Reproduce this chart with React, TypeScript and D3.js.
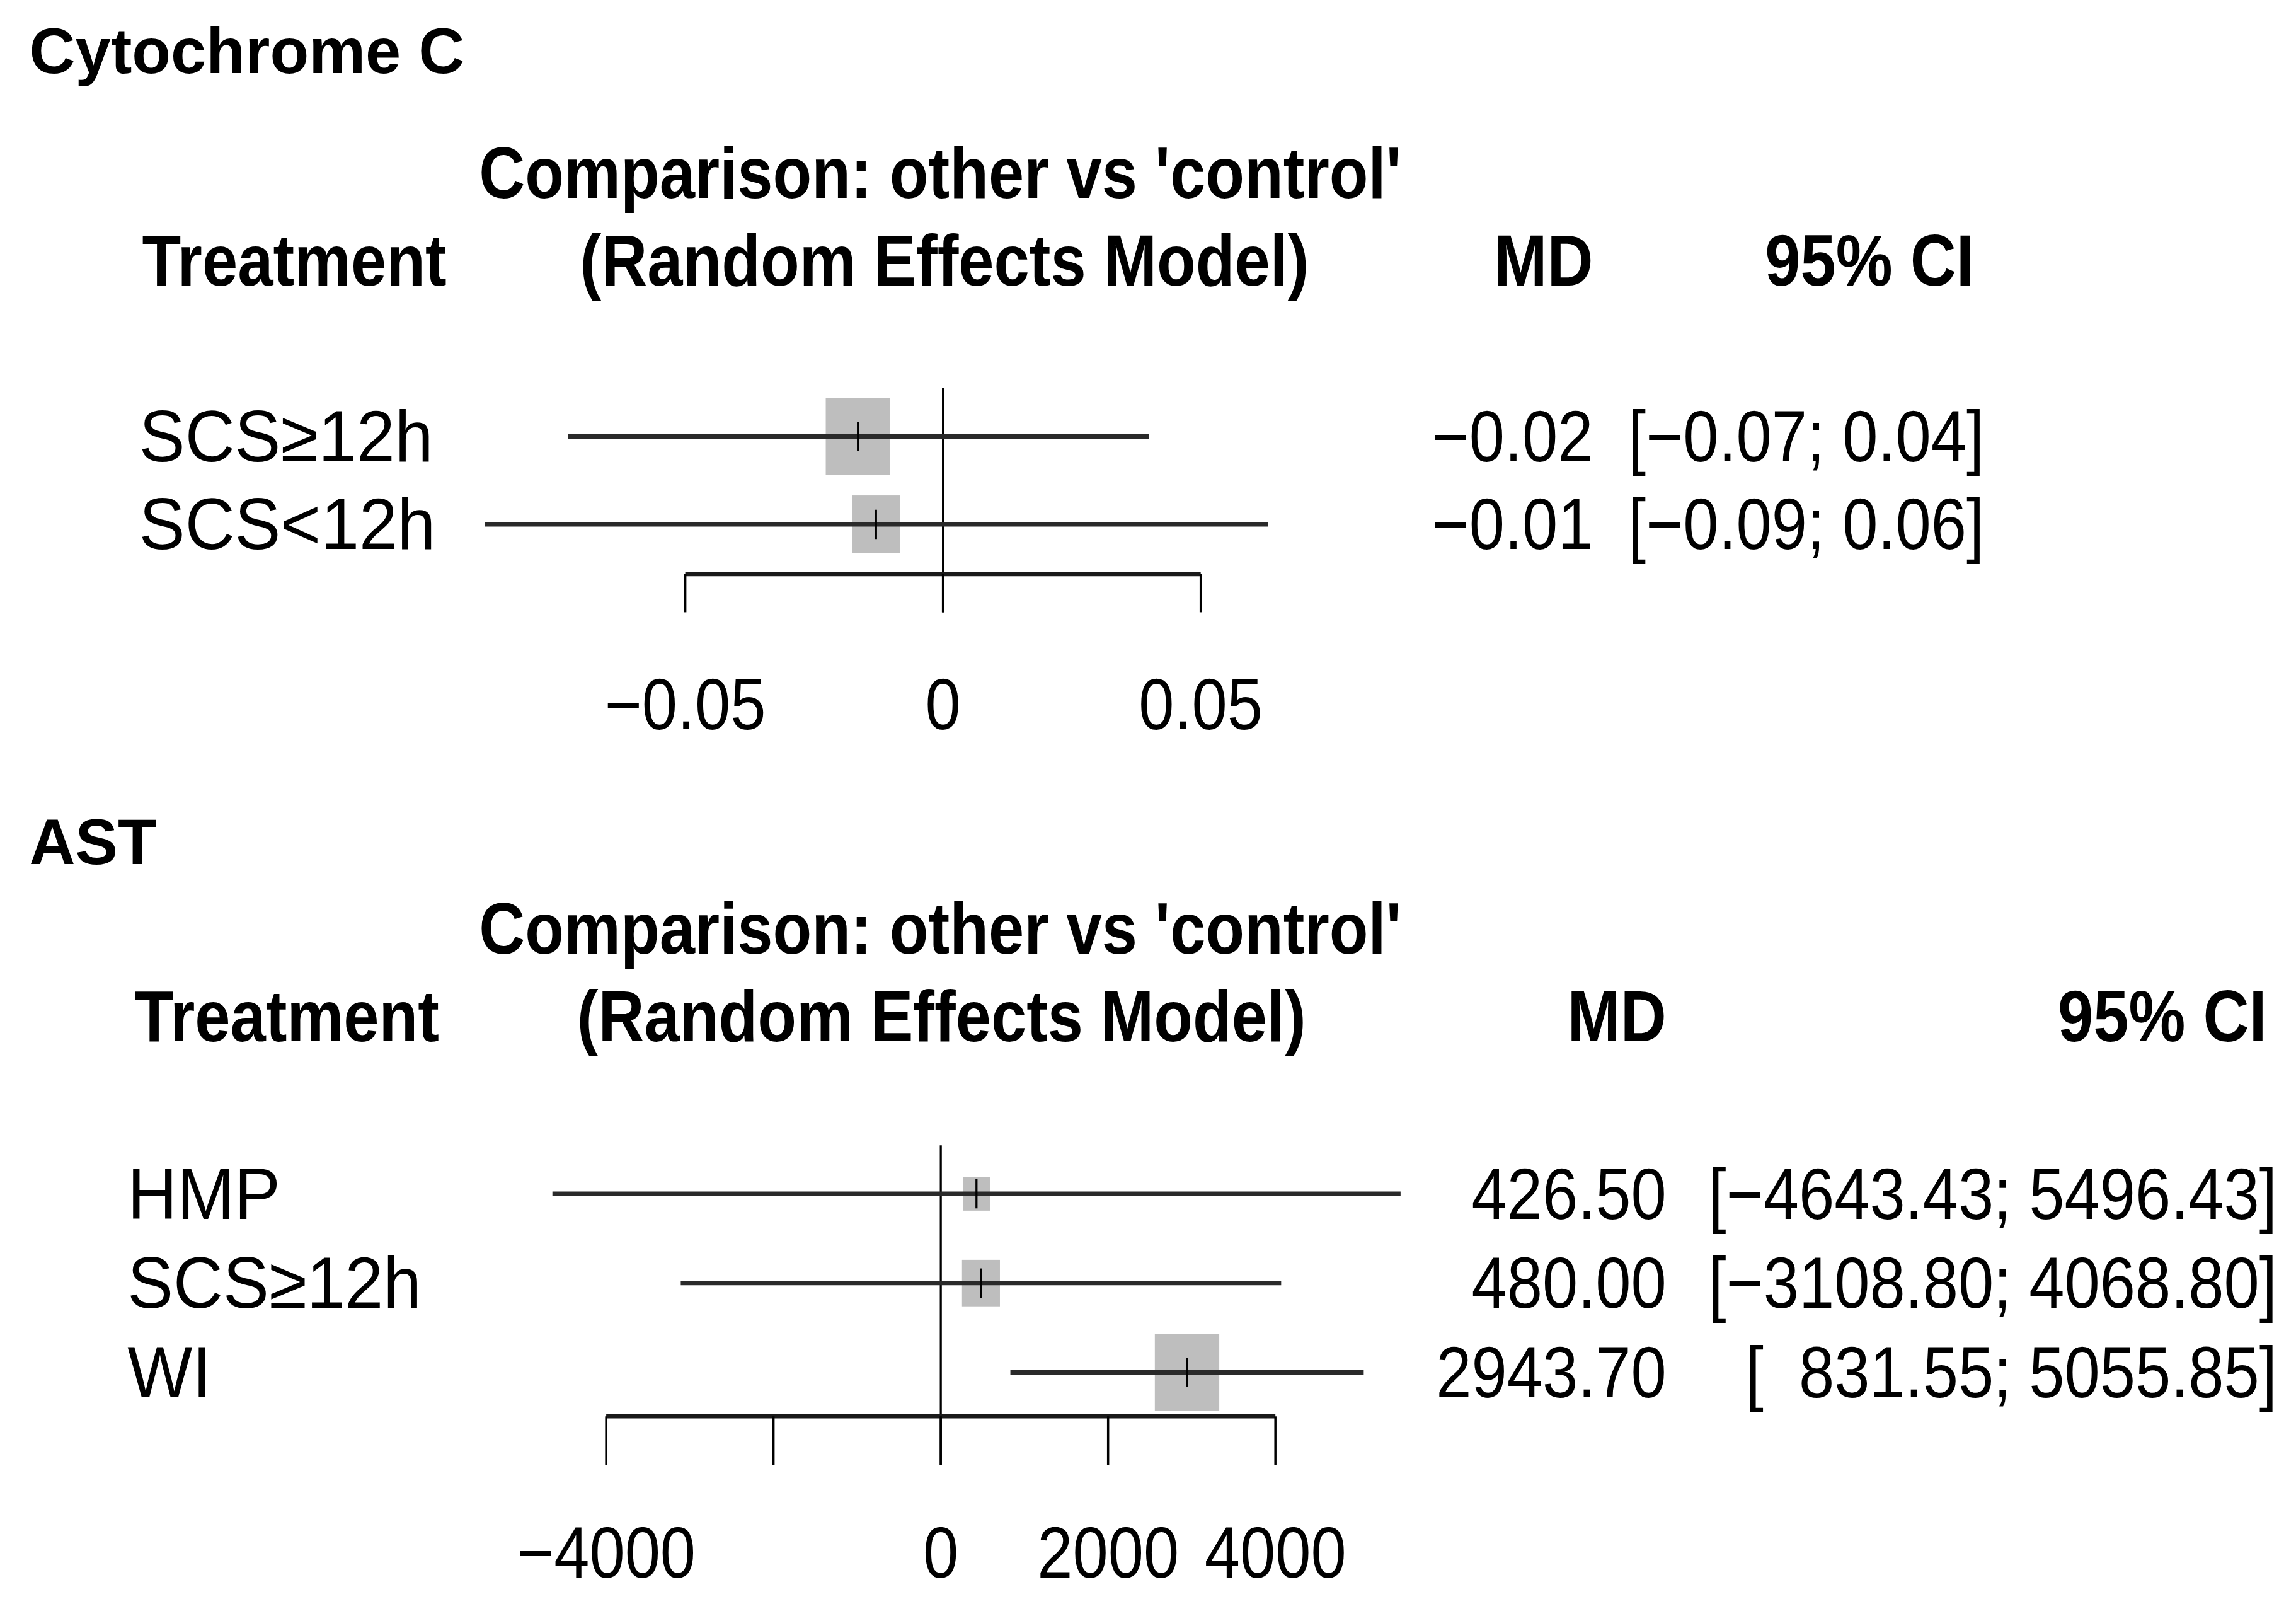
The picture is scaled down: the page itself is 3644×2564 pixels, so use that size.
import * as d3 from "d3";

// Cytochrome C
const cytoRows = ["SCS≥12h", "SCS<12h"];
const cytoMD = [-0.0165, -0.013];
const cytoLower = [-0.0727, -0.0889];
const cytoUpper = [0.04, 0.0631];
const cytoTicks = [-0.05, 0, 0.05];
const cytoTickLabels = [-0.05, 0, 0.05];

// AST
const astRows = ["HMP", "SCS≥12h", "WI"];
const astMD = [426.5, 480.0, 2943.7];
const astLower = [-4643.43, -3108.8, 831.55];
const astUpper = [5496.43, 4068.8, 5055.85];
const astTicks = [-4000, -2000, 0, 2000, 4000];
const astTickLabels = [-4000, 0, 2000, 4000];

const W = 1568;
const H = (2564 * W) / 3644;
const FONT = "'Liberation Sans', Arial, Helvetica, sans-serif";
const SY = 1.13; // plot texts are a bit stretched vertically
const FS = 43.5;
const LABEL_FS = 47;
const BOX_MAX = 44;

const fmt = d3.format(".2f");
const fmtTick = (v: number) => (v === 0 ? "0" : d3.format("")(v));

type Layout = {
  title: string;
  titleY: number;
  compY: number;
  headY: number;
  compX: number;
  remX: number;
  treatX: number;
  labelX: number;
  rowFirst: number;
  rowLast: number;
  axisY: number;
  tickLen: number;
  tickLabelY: number;
  xRange: [number, number];
  domain: [number, number];
  mdRight: number;
  ciRight: number;
  mdHeadRight: number;
  ciHeadRight: number;
  refTop: number;
};

const cytoLayout: Layout = {
  title: "Cytochrome C",
  titleY: 50, compY: 135, headY: 195, compX: 642, remX: 645, treatX: 97, labelX: 95,
  rowFirst: 298, rowLast: 358, axisY: 392, tickLen: 26, tickLabelY: 498,
  xRange: [468, 820], domain: [-0.05, 0.05],
  mdRight: 1088, ciRight: 1355, mdHeadRight: 1088, ciHeadRight: 1348, refTop: 265,
};

const astLayout: Layout = {
  title: "AST",
  titleY: 590, compY: 651, headY: 711, compX: 642, remX: 643, treatX: 92, labelX: 87,
  rowFirst: 815, rowLast: 937, axisY: 967, tickLen: 33, tickLabelY: 1077,
  xRange: [414, 871], domain: [-4000, 4000],
  mdRight: 1138, ciRight: 1555, mdHeadRight: 1138, ciHeadRight: 1548, refTop: 782,
};

const T = ({
  x, y, anchor = "start", bold = false, size = FS, sy = SY, children,
}: {
  x: number; y: number; anchor?: string; bold?: boolean; size?: number; sy?: number; children: any;
}) => (
  <text
    transform={`translate(${x},${y}) scale(1,${sy})`}
    textAnchor={anchor as any}
    fontWeight={bold ? "bold" : "normal"}
    fontSize={size}
    fontFamily={FONT}
    fill="#000"
  >
    {children}
  </text>
);

const Forest = ({
  L, rows, md, lower, upper, ticks, tickLabels,
}: {
  L: Layout; rows: string[]; md: number[]; lower: number[]; upper: number[];
  ticks: number[]; tickLabels: number[];
}) => {
  const x = d3.scaleLinear().domain(L.domain).range(L.xRange);
  const y = d3.scalePoint<string>().domain(rows).range([L.rowFirst, L.rowLast]);
  const ciw = rows.map((_, i) => upper[i] - lower[i]);
  const minW = d3.min(ciw) as number;
  const box = d3.scaleLinear().domain([0, 1 / minW]).range([0, BOX_MAX]);

  const lowStr = lower.map(fmt);
  const padLen = d3.max(lowStr, (s) => s.length) as number;

  return (
    <g>
      <T x={20} y={L.titleY} bold sy={1}>{L.title}</T>
      <T x={L.compX} y={L.compY} anchor="middle" bold>Comparison: other vs 'control'</T>
      <T x={L.treatX} y={L.headY} bold>Treatment</T>
      <T x={L.remX} y={L.headY} anchor="middle" bold>(Random Effects Model)</T>
      <T x={L.mdHeadRight} y={L.headY} anchor="end" bold>MD</T>
      <T x={L.ciHeadRight} y={L.headY} anchor="end" bold>95% CI</T>

      {/* reference line */}
      <line x1={x(0)} x2={x(0)} y1={L.refTop} y2={L.axisY + L.tickLen} stroke="#000" strokeWidth={1.4} />

      {rows.map((r, i) => {
        const cy = y(r) as number;
        const bw = box(1 / ciw[i]);
        const bh = bw * 1.15 + 2;
        return (
          <g key={r}>
            <T x={L.labelX} y={cy + 17} size={LABEL_FS} sy={1.05}>{r}</T>
            <rect x={x(md[i]) - bw / 2} y={cy - bh / 2} width={bw} height={bh} fill="#BEBEBE" />
            <line x1={x(lower[i])} x2={x(upper[i])} y1={cy} y2={cy} stroke="#2a2a2a" strokeWidth={3} />
            <line x1={x(md[i])} x2={x(md[i])} y1={cy - 10} y2={cy + 10} stroke="#000" strokeWidth={1.4} />
            <T x={L.mdRight} y={cy + 17} anchor="end">{fmt(md[i])}</T>
            <T x={L.ciRight} y={cy + 17} anchor="end">
              <tspan style={{ whiteSpace: "pre" }}>{`[${lowStr[i].padStart(padLen, " ")}; ${fmt(upper[i])}]`}</tspan>
            </T>
          </g>
        );
      })}

      {/* axis */}
      <line x1={x(ticks[0])} x2={x(ticks[ticks.length - 1])} y1={L.axisY} y2={L.axisY} stroke="#1a1a1a" strokeWidth={2.8} />
      {ticks.map((t) => (
        <line key={t} x1={x(t)} x2={x(t)} y1={L.axisY} y2={L.axisY + L.tickLen} stroke="#000" strokeWidth={1.5} />
      ))}
      {tickLabels.map((t) => (
        <T key={t} x={x(t)} y={L.tickLabelY} anchor="middle">{fmtTick(t)}</T>
      ))}
    </g>
  );
};

export default function App() {
  return (
    <svg
      width={3644}
      height={2564}
      viewBox={`0 0 ${W} ${H}`}
      style={{ position: "absolute", left: 0, top: 0, background: "#fff", display: "block" }}
    >
      <rect x={0} y={0} width={W} height={H} fill="#fff" />
      <Forest L={cytoLayout} rows={cytoRows} md={cytoMD} lower={cytoLower} upper={cytoUpper}
        ticks={cytoTicks} tickLabels={cytoTickLabels} />
      <Forest L={astLayout} rows={astRows} md={astMD} lower={astLower} upper={astUpper}
        ticks={astTicks} tickLabels={astTickLabels} />
    </svg>
  );
}
